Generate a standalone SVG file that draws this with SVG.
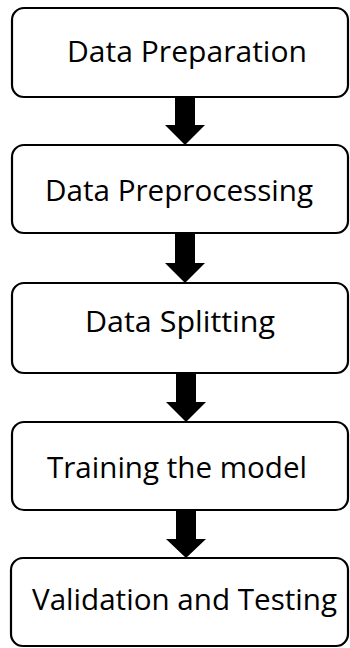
<svg xmlns="http://www.w3.org/2000/svg" width="350" height="648" viewBox="0 0 350 648">
<style>
.box{fill:#fff;stroke:#000;stroke-width:2.2}
.lbl{font-family:"Open Sans","Liberation Sans",sans-serif;font-size:30px;fill:#000}
.arr{fill:#000}
</style>
<rect width="350" height="648" fill="#fff"/>
<g id="connectors">
<polygon class="arr" points="175,97 195,97 195,125 205,125 185,145 165,125 175,125"/>
<polygon class="arr" points="175,233 195,233 195,263 205,263 185,283 165,263 175,263"/>
<polygon class="arr" points="176,373 196,373 196,402 206,402 186,422 166,402 176,402"/>
<polygon class="arr" points="176,510 196,510 196,539 206,539 186,558 166,539 176,539"/>
</g>
<g id="n1"><rect class="box" x="12" y="8" width="336" height="89" rx="12"/><text class="lbl" x="67" y="62" textLength="240" lengthAdjust="spacingAndGlyphs">Data Preparation</text></g>
<g id="n2"><rect class="box" x="12" y="145" width="336" height="88" rx="12"/><text class="lbl" x="45" y="201" textLength="268" lengthAdjust="spacingAndGlyphs">Data Preprocessing</text></g>
<g id="n3"><rect class="box" x="12" y="283" width="336" height="90" rx="12"/><text class="lbl" x="85" y="332" textLength="190" lengthAdjust="spacingAndGlyphs">Data Splitting</text></g>
<g id="n4"><rect class="box" x="12" y="422" width="336" height="88" rx="12"/><text class="lbl" x="47" y="478" textLength="260" lengthAdjust="spacingAndGlyphs">Training the model</text></g>
<g id="n5"><rect class="box" x="11" y="558" width="337" height="88" rx="12"/><text class="lbl" x="32" y="610" textLength="305" lengthAdjust="spacingAndGlyphs">Validation and Testing</text></g>
</svg>
